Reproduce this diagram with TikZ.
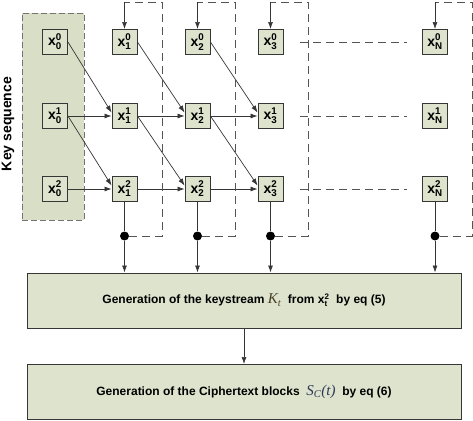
\documentclass[tikz,border=0pt]{standalone}
\usepackage{amsmath}
\usepackage{fontspec}
\setmainfont{Liberation Sans}
\newfontfamily\eqfont{Liberation Serif}
\usetikzlibrary{arrows.meta}
\definecolor{cellfill}{HTML}{DDE3CD}
\definecolor{keyfill}{HTML}{D9DEC7}
\definecolor{linegray}{HTML}{363636}
\definecolor{mathK}{HTML}{4A4020}
\definecolor{mathS}{HTML}{2E3856}
\newcommand{\xs}[2]{\textbf{x}$^{\textbf{#1}}_{\textbf{#2}}$}

\begin{document}
\begin{tikzpicture}[x=1pt, y=-1pt,
    cell/.style={rectangle, draw=linegray, fill=cellfill, line width=0.9pt, minimum width=25pt, minimum height=25pt, inner sep=0pt, font=\fontsize{14}{14}\selectfont},
    stage/.style={rectangle, draw=linegray, fill=cellfill, line width=1pt, minimum width=434pt, minimum height=55pt, font=\fontsize{12}{14}\selectfont\bfseries},
    keybox/.style={rectangle, draw=gray!90!black, fill=keyfill, line width=0.9pt, dash pattern=on 6pt off 3pt, minimum width=62pt, minimum height=207pt},
    arrow/.style={-{Latex[length=7pt,width=5pt]}, line width=0.7pt, draw=linegray},
    link/.style={line width=0.7pt, draw=linegray},
    fback/.style={line width=0.9pt, draw=linegray!85, dash pattern=on 8pt off 5pt},
    tap/.style={circle, fill=black, minimum size=9pt, inner sep=0pt},
]
    \useasboundingbox (0,0) rectangle (473,420);

    % key sequence column
    \node[keybox] (keys) at (53,116.5) {};
    \node[rotate=90, font=\fontsize{14}{14}\selectfont\bfseries] (keylabel) at (8,124) {Key sequence};

    \node[cell] (x00) at (55,42) {\xs{0}{0}};
    \node[cell] (x01) at (55,116) {\xs{1}{0}};
    \node[cell] (x02) at (55,189) {\xs{2}{0}};

    % generator columns
    \node[cell] (x10) at (124.5,42) {\xs{0}{1}};
    \node[cell] (x11) at (124.5,116) {\xs{1}{1}};
    \node[cell] (x12) at (124.5,189) {\xs{2}{1}};
    \node[cell] (x20) at (197.5,42) {\xs{0}{2}};
    \node[cell] (x21) at (197.5,116) {\xs{1}{2}};
    \node[cell] (x22) at (197.5,189) {\xs{2}{2}};
    \node[cell] (x30) at (270.5,42) {\xs{0}{3}};
    \node[cell] (x31) at (270.5,116) {\xs{1}{3}};
    \node[cell] (x32) at (270.5,189) {\xs{2}{3}};
    \node[cell] (xN0) at (435,42) {\xs{0}{N}};
    \node[cell] (xN1) at (435,116) {\xs{1}{N}};
    \node[cell] (xN2) at (435,189) {\xs{2}{N}};

    % stages
    \node[stage] (keystream) at (244,300.5) {Generation of the keystream \textcolor{mathK}{\eqfont\mdseries\itshape\fontsize{15}{15}\selectfont K\textsubscript{t}}\ \ from \xs{2}{t}\ \ by eq (5)};
    \node[stage] (cipher) at (244,392) {Generation of the Ciphertext blocks\ \ \textcolor{mathS}{\eqfont\mdseries\itshape\fontsize{15}{15}\selectfont S\textsubscript{C}(t)}\ \ by eq (6)};

    \draw[arrow] (x00.east) -- (x11.165);
    \draw[arrow] (x01) -- (x11);
    \draw[arrow] (x01.east) -- (x12.165);
    \draw[arrow] (x02) -- (x12);
    \draw[arrow] (x10.east) -- (x21.165);
    \draw[arrow] (x11) -- (x21);
    \draw[arrow] (x11.east) -- (x22.165);
    \draw[arrow] (x12) -- (x22);
    \draw[arrow] (x20.east) -- (x31.165);
    \draw[arrow] (x21) -- (x31);
    \draw[arrow] (x21.east) -- (x32.165);
    \draw[arrow] (x22) -- (x32);

    \draw[fback, shorten <=17pt, shorten >=15pt] (x30) -- (xN0);
    \draw[fback, shorten <=17pt, shorten >=15pt] (x31) -- (xN1);
    \draw[fback, shorten <=17pt, shorten >=15pt] (x32) -- (xN2);

    % taps and feedback
    \node[tap] (t1) at (124.5,236) {};
    \node[tap] (t2) at (197.5,236) {};
    \node[tap] (t3) at (270.5,236) {};
    \node[tap] (tN) at (435,236) {};
    \coordinate (r1) at (162,2);
    \coordinate (u1) at (124.5,2);
    \coordinate (r2) at (235,2);
    \coordinate (u2) at (197.5,2);
    \coordinate (r3) at (308,2);
    \coordinate (u3) at (270.5,2);
    \coordinate (rN) at (472,2);
    \coordinate (uN) at (435,2);

    \draw[link] (x12) -- (t1);
    \draw[link] (x22) -- (t2);
    \draw[link] (x32) -- (t3);
    \draw[link] (xN2) -- (tN);
    \draw[fback] (t1) -| (r1) -- (u1);
    \draw[fback] (t2) -| (r2) -- (u2);
    \draw[fback] (t3) -| (r3) -- (u3);
    \draw[fback] (tN) -| (rN) -- (uN);
    \draw[arrow] (u1) -- (x10);
    \draw[arrow] (u2) -- (x20);
    \draw[arrow] (u3) -- (x30);
    \draw[arrow] (uN) -- (xN0);
    \draw[arrow] (t1) -- (t1 |- keystream.north);
    \draw[arrow] (t2) -- (t2 |- keystream.north);
    \draw[arrow] (t3) -- (t3 |- keystream.north);
    \draw[arrow] (tN) -- (tN |- keystream.north);
    \draw[arrow] (keystream) -- (cipher);
\end{tikzpicture}
\end{document}
